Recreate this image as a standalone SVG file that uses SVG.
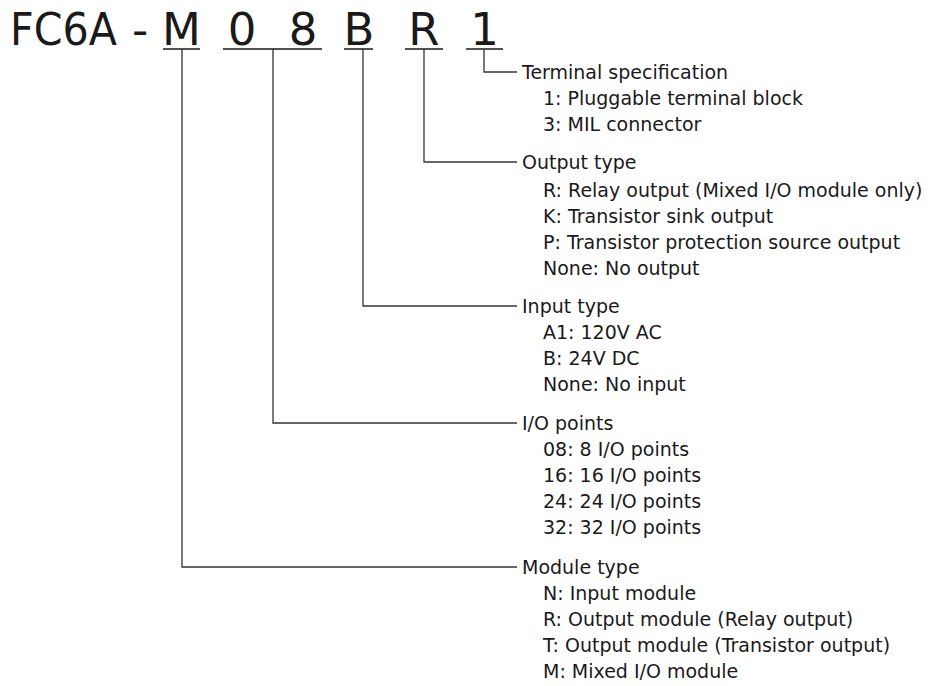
<svg xmlns="http://www.w3.org/2000/svg" width="938" height="686" viewBox="0 0 938 686">
<style>
.t{font-family:"DejaVu Sans","Liberation Sans",sans-serif;font-size:19px;fill:#1a1a1a}
.h{font-family:"DejaVu Sans","Liberation Sans",sans-serif;font-size:45px;fill:#1a1a1a}
.ul{stroke:#1a1a1a;stroke-width:1.5;fill:none}
.ln{stroke:#333;stroke-width:1.3;fill:none}
</style>
<rect width="938" height="686" fill="#fff"/>
<g id="code">
<text class="h" x="10" y="45" textLength="107" lengthAdjust="spacingAndGlyphs">FC6A</text>
<text class="h" x="140" y="45" text-anchor="middle">-</text>
<text class="h" x="181.5" y="45" text-anchor="middle">M</text>
<text class="h" x="242" y="45" text-anchor="middle">0</text>
<text class="h" x="303" y="45" text-anchor="middle">8</text>
<text class="h" x="359" y="45" text-anchor="middle">B</text>
<text class="h" x="424" y="45" text-anchor="middle">R</text>
<text class="h" x="484.5" y="45" text-anchor="middle">1</text>
<path class="ul" d="M163 49H200M223 49H322M344 49H373M405 49H443M466 49H503"/>
</g>
<g id="connectors">
<path class="ln" d="M484 49V72H517"/>
<path class="ln" d="M424 49V162H517"/>
<path class="ln" d="M363 49V306H517"/>
<path class="ln" d="M273 49V423H517"/>
<path class="ln" d="M182 49V567H517"/>
</g>
<g id="terminal">
<text class="t" x="522" y="79">Terminal specification</text>
<text class="t" x="543" y="105">1: Pluggable terminal block</text>
<text class="t" x="543" y="131">3: MIL connector</text>
</g>
<g id="output">
<text class="t" x="522" y="169">Output type</text>
<text class="t" x="543" y="197">R: Relay output (Mixed I/O module only)</text>
<text class="t" x="543" y="223">K: Transistor sink output</text>
<text class="t" x="543" y="249">P: Transistor protection source output</text>
<text class="t" x="543" y="275">None: No output</text>
</g>
<g id="input">
<text class="t" x="522" y="313">Input type</text>
<text class="t" x="543" y="339">A1: 120V AC</text>
<text class="t" x="543" y="365">B: 24V DC</text>
<text class="t" x="543" y="391">None: No input</text>
</g>
<g id="io">
<text class="t" x="522" y="430">I/O points</text>
<text class="t" x="543" y="456">08: 8 I/O points</text>
<text class="t" x="543" y="482">16: 16 I/O points</text>
<text class="t" x="543" y="508">24: 24 I/O points</text>
<text class="t" x="543" y="534">32: 32 I/O points</text>
</g>
<g id="module">
<text class="t" x="522" y="574">Module type</text>
<text class="t" x="543" y="600">N: Input module</text>
<text class="t" x="543" y="626">R: Output module (Relay output)</text>
<text class="t" x="543" y="652">T: Output module (Transistor output)</text>
<text class="t" x="543" y="678">M: Mixed I/O module</text>
</g>
</svg>
